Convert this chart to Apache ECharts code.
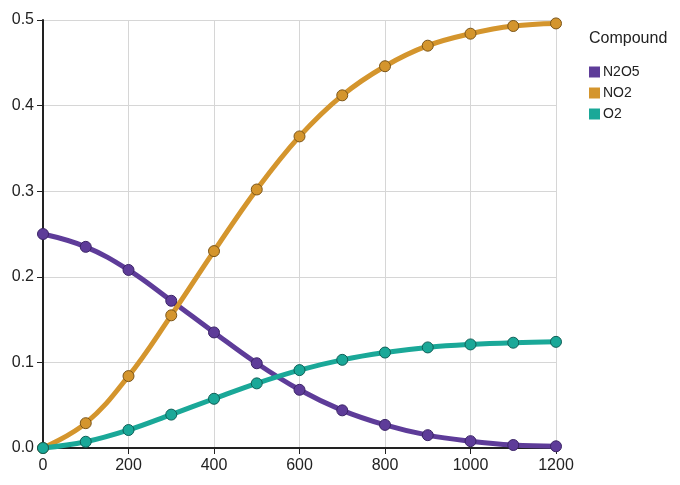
<!DOCTYPE html>
<html>
<head>
<meta charset="utf-8">
<script src="https://cdn.jsdelivr.net/npm/echarts@6/dist/echarts.min.js"></script>
<style>
html,body{margin:0;padding:0;background:#fff;}
#chart{width:680px;height:485px;}
</style>
</head>
<body>
<div id="chart"></div>
<script>
const times = [0,100,200,300,400,500,600,700,800,900,1000,1100,1200];
const n2o5 = [0.25,0.235,0.208,0.172,0.135,0.099,0.068,0.044,0.027,0.015,0.008,0.0035,0.002];
const no2  = [0,0.029,0.084,0.155,0.23,0.302,0.364,0.412,0.446,0.47,0.484,0.493,0.496];
const o2   = [0,0.0073,0.021,0.039,0.0575,0.0755,0.091,0.103,0.1115,0.1175,0.121,0.123,0.124];
const names = ['N2O5','NO2','O2'];
const colors = ['#5e3c99','#d4952d','#1aa898'];
const borders = ['#3b2466','#7a5418','#0f5f57'];
const values = [n2o5,no2,o2];

const font = '"Liberation Sans", Arial, sans-serif';
const chart = echarts.init(document.getElementById('chart'));
chart.setOption({
  animation:false,
  title:{text:'Compound',left:589,top:31,padding:0,textStyle:{fontFamily:font,fontSize:16,fontWeight:'normal',color:'#222'}},
  legend:{
    orient:'vertical',left:589,top:65,padding:0,itemWidth:11,itemHeight:11,itemGap:7,icon:'rect',
    textStyle:{fontFamily:font,fontSize:14,color:'#222',padding:[0,0,0,-2]},
    itemStyle:{borderWidth:0},
    data:names
  },
  grid:{left:43,right:124,top:20,bottom:37,containLabel:false},
  xAxis:{
    type:'value',min:0,max:1200,interval:200,
    axisLine:{show:true,lineStyle:{color:'#222',width:2}},
    axisTick:{show:true,length:6,lineStyle:{color:'#222'}},
    axisLabel:{fontFamily:font,fontSize:16,color:'#222',margin:10,formatter:v=>String(v)},
    splitLine:{show:true,lineStyle:{color:'#d6d6d6',width:1}}
  },
  yAxis:{
    type:'value',min:0,max:0.5,interval:0.1,
    axisLine:{show:true,lineStyle:{color:'#222',width:2}},
    axisTick:{show:true,length:6,lineStyle:{color:'#222'}},
    axisLabel:{fontFamily:font,fontSize:16,color:'#222',margin:9,formatter:v=>v.toFixed(1)},
    splitLine:{show:true,lineStyle:{color:'#d6d6d6',width:1}}
  },
  series: names.map((n,i)=>({
    name:n,type:'line',
    data: times.map((t,j)=>[t,values[i][j]]),
    smooth:0.4,
    symbol:'circle',symbolSize:11,showSymbol:true,
    lineStyle:{color:colors[i],width:5},
    itemStyle:{color:colors[i],borderColor:borders[i],borderWidth:1},
    emphasis:{disabled:true}
  }))
});
</script>
</body>
</html>
